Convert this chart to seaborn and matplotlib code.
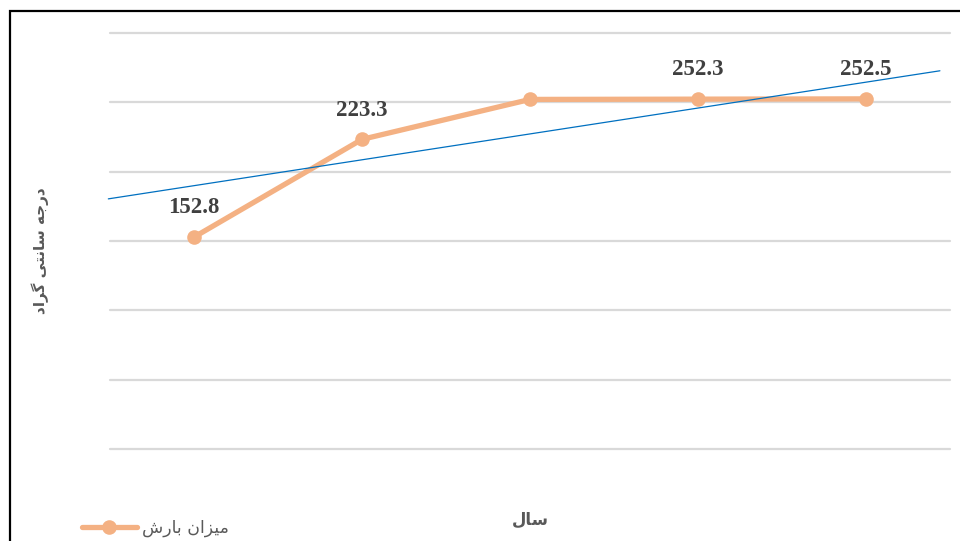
import matplotlib
matplotlib.use('Agg')
import matplotlib.pyplot as plt
import seaborn as sns
import pandas as pd
import numpy as np
from matplotlib.patches import Rectangle
from matplotlib.lines import Line2D

# data (values shown as 152.8 etc.)
periods = ['1', '2', '3', '4', '5']
rainfall = [152.8, 223.3, 252.1, 252.3, 252.5]
point_labels = ['152.8', '223.3', '', '252.3', '252.5']
# linear trendline as drawn (value at first period, slope per period)
trend_start = 189.9
trend_slope = 18.66
trend_backward = 0.51
trend_forward = 0.44

series_name = 'میزان بارش'
x_title = 'سال'
y_title = 'درجه سانتی گراد'

# minimal arabic/persian shaping (matplotlib has no shaping)
FORMS = {
    'ا': ('\uFE8D', '\uFE8E', None, None),
    'ب': ('\uFE8F', '\uFE90', '\uFE91', '\uFE92'),
    'ت': ('\uFE95', '\uFE96', '\uFE97', '\uFE98'),
    'ج': ('\uFE9D', '\uFE9E', '\uFE9F', '\uFEA0'),
    'د': ('\uFEA9', '\uFEAA', None, None),
    'ر': ('\uFEAD', '\uFEAE', None, None),
    'ز': ('\uFEAF', '\uFEB0', None, None),
    'س': ('\uFEB1', '\uFEB2', '\uFEB3', '\uFEB4'),
    'ش': ('\uFEB5', '\uFEB6', '\uFEB7', '\uFEB8'),
    'ل': ('\uFEDD', '\uFEDE', '\uFEDF', '\uFEE0'),
    'م': ('\uFEE1', '\uFEE2', '\uFEE3', '\uFEE4'),
    'ن': ('\uFEE5', '\uFEE6', '\uFEE7', '\uFEE8'),
    'ه': ('\uFEE9', '\uFEEA', '\uFEEB', '\uFEEC'),
    'ی': ('\uFBFC', '\uFBFD', '\uFBFE', '\uFBFF'),
    'گ': ('\uFB92', '\uFB93', '\uFB94', '\uFB95'),
}


def shape(text):
    out = []
    for i, ch in enumerate(text):
        if ch not in FORMS:
            out.append(ch)
            continue
        prev = text[i - 1] if i > 0 else ''
        nxt = text[i + 1] if i + 1 < len(text) else ''
        jp = prev in FORMS and FORMS[prev][2] is not None
        jn = FORMS[ch][2] is not None and nxt in FORMS
        iso, fin, ini, med = FORMS[ch]
        if jp and jn:
            out.append(med)
        elif jp:
            out.append(fin)
        elif jn:
            out.append(ini)
        else:
            out.append(iso)
    return ''.join(reversed(out))


sns.set_style('white')
plt.rcParams['font.family'] = ['DejaVu Sans']

orange = '#F4B183'
blue = '#0070C0'
grey = '#595959'

df = pd.DataFrame({'period': periods, 'rain': rainfall})

fig = plt.figure(figsize=(9.6, 5.41), dpi=100)
ax = fig.add_axes([110 / 960, 1 - 449 / 541, 840 / 960, 416 / 541])

sns.lineplot(data=df, x='period', y='rain', sort=False, ax=ax, color=orange,
             linewidth=3.8, marker='o', markersize=10.5, markeredgewidth=0,
             zorder=3)

tx = np.array([-trend_backward, len(periods) - 1 + trend_forward])
ax.plot(tx, trend_start + trend_slope * tx, color=blue, lw=0.9, zorder=4,
        clip_on=False)

for i, (v, lab) in enumerate(zip(rainfall, point_labels)):
    if lab:
        ax.annotate(lab, (i, v), xytext=(0, 21), textcoords='offset points',
                    ha='center', va='center', fontsize=16.5, fontweight='bold',
                    family='Liberation Serif', color='#404040')

ax.set_xlim(-0.5, len(periods) - 0.5)
ax.set_ylim(0, 300)
ax.set_yticks(np.arange(0, 301, 50))
ax.yaxis.grid(True, color='#D9D9D9', lw=1.6)
for g in ax.get_ygridlines():
    g.set_clip_on(False)
ax.xaxis.grid(False)
ax.tick_params(left=False, bottom=False, labelleft=False, labelbottom=False)
for s in ax.spines.values():
    s.set_visible(False)
ax.set_xlabel('')
ax.set_ylabel('')

fig.text(530 / 960, 1 - 520 / 541, shape(x_title), ha='center', va='center',
         fontsize=12, fontweight='bold', color=grey)
fig.text(40 / 960, 1 - 251 / 541, shape(y_title), ha='center', va='center',
         rotation=90, fontsize=11, fontweight='bold', color=grey)

handle = Line2D([], [], color=orange, lw=3.8, marker='o', markersize=10.5,
                markeredgewidth=0)
fig.legend([handle], [shape(series_name)], loc='lower left',
           bbox_to_anchor=(66 / 960, -0.022), frameon=False, fontsize=12.5,
           handlelength=3.2, handletextpad=0.25, labelcolor=grey)

fig.patches.append(Rectangle((10 / 960, -0.1), 1.2, 1 - 11 / 541 + 0.1,
                             transform=fig.transFigure, fill=False,
                             ec='black', lw=1.6))

fig.savefig('out.png', dpi=100)
